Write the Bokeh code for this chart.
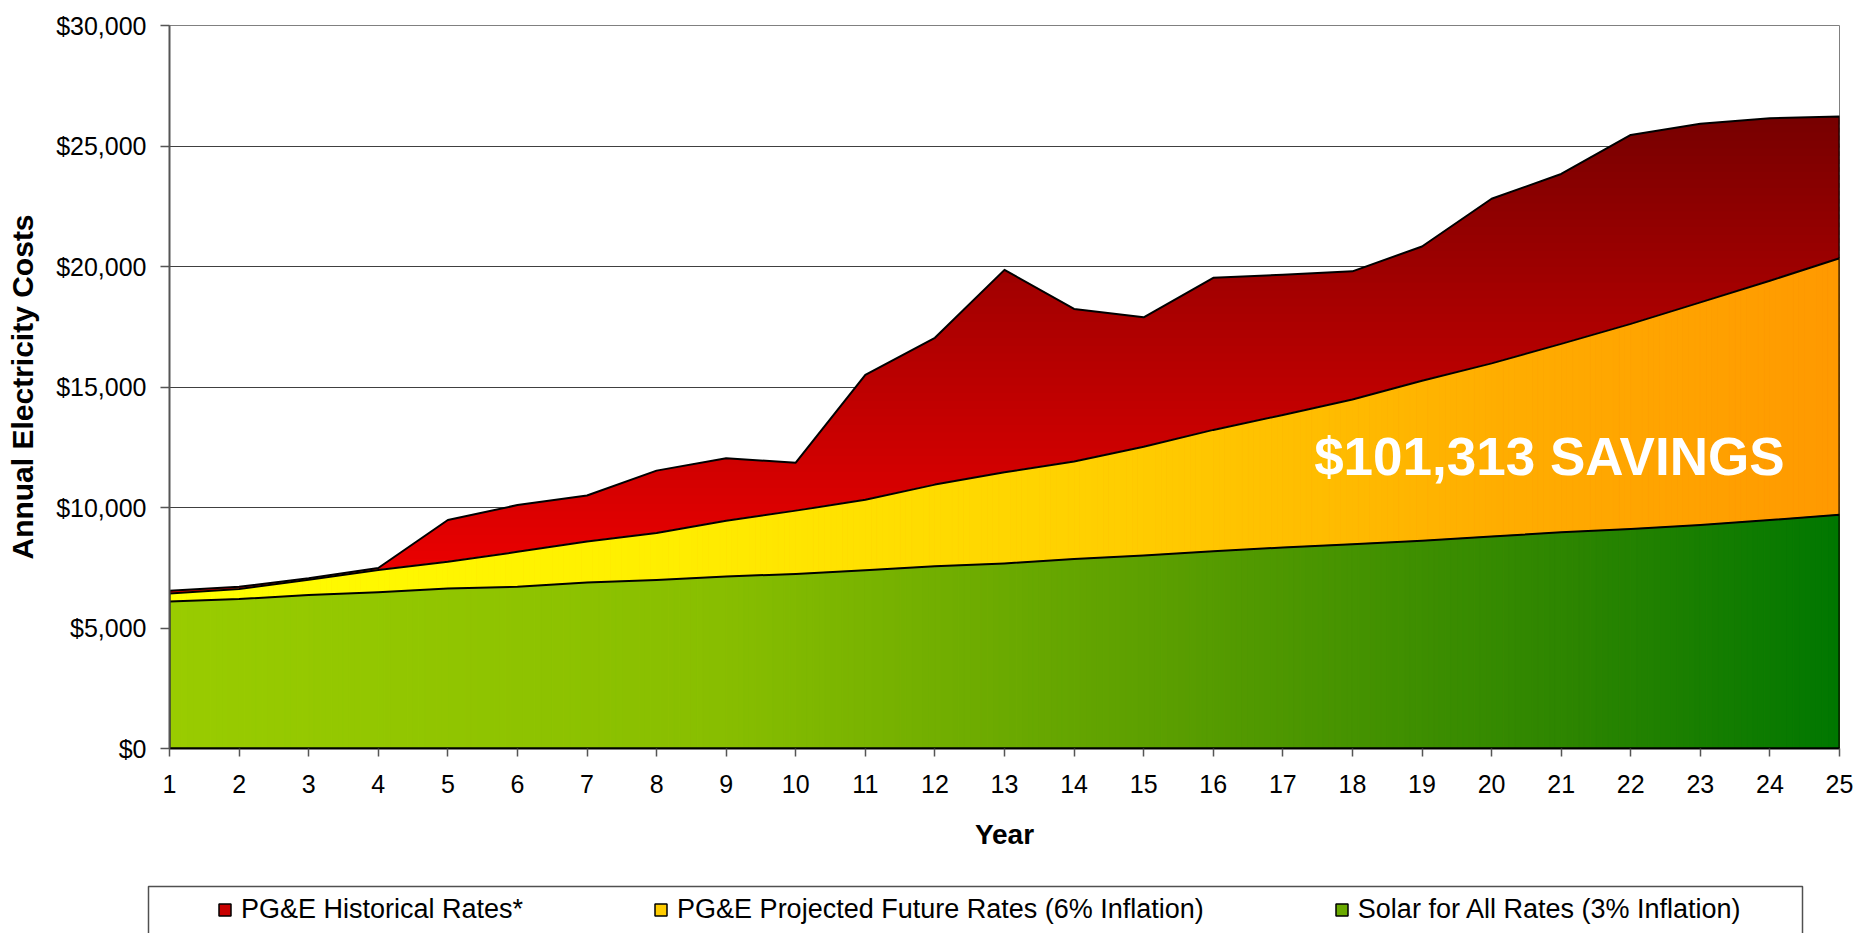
import numpy as np
from bokeh.plotting import figure
from bokeh.layouts import column, row
from bokeh.models import (ColumnDataSource, Legend, LegendItem, Label, BoxAnnotation,
                          NumeralTickFormatter, FixedTicker, Range1d)
from bokeh.embed import file_html
from bokeh.resources import INLINE

# ---------------- data ----------------
YEARS = list(range(1, 26))
HISTORICAL = [6550, 6710, 7060, 7490, 9480, 10100, 10500, 11530, 12040, 11860,
              15500, 17040, 19860, 18240, 17890, 19530, 19660, 19800, 20830, 22810,
              23840, 25460, 25920, 26150, 26220]
PROJECTED = [6430, 6620, 7000, 7410, 7750, 8160, 8590, 8940, 9450, 9870,
             10320, 10950, 11460, 11910, 12520, 13220, 13840, 14480, 15260, 15980,
             16790, 17620, 18510, 19410, 20340]
SOLAR = [6100, 6200, 6370, 6480, 6640, 6710, 6890, 6990, 7140, 7240,
         7400, 7560, 7680, 7860, 8010, 8180, 8340, 8480, 8620, 8800,
         8970, 9110, 9270, 9480, 9700]
Y_TICKS = [0, 5000, 10000, 15000, 20000, 25000, 30000]
LABELS = ["PG&E Historical Rates*",
          "PG&E Projected Future Rates (6% Inflation)",
          "Solar for All Rates (3% Inflation)"]
X_TITLE = "Year"
Y_TITLE = "Annual Electricity Costs"
SAVINGS_TEXT = "$101,313 SAVINGS"
SAVINGS_X, SAVINGS_Y = 20.83, 12120

# ---------------- style ----------------
FONT = "Liberation Sans"
RED_STOPS = [(0.0, "#FF0000"), (0.16, "#FF0000"), (1.0, "#770000")]
YELLOW_STOPS = [(0.0, "#FFFF00"), (0.3, "#FFEE00"), (0.55, "#FFD000"), (0.8, "#FFAD00"), (1.0, "#FF9900")]
GREEN_STOPS = [(0.0, "#99CC00"), (0.33, "#88BE00"), (0.6, "#5A9E00"), (0.85, "#2A8400"), (1.0, "#007700")]
SWATCH_COLORS = ["#C80000", "#FFCC00", "#6AAA00"]


def lerp_color(stops, t):
    t = min(max(t, 0.0), 1.0)
    for (t0, c0), (t1, c1) in zip(stops[:-1], stops[1:]):
        if t <= t1:
            f = 0.0 if t1 == t0 else (t - t0) / (t1 - t0)
            a = [int(c0[i:i + 2], 16) for i in (1, 3, 5)]
            b = [int(c1[i:i + 2], 16) for i in (1, 3, 5)]
            return "#%02x%02x%02x" % tuple(int(round(a[k] + (b[k] - a[k]) * f)) for k in range(3))
    return stops[-1][1]


xv = np.array(YEARS, dtype=float)


def vertical_strips(series, stops, sub=12):
    """Area from 0 to series, cut into vertical strips for a left-to-right gradient."""
    s = np.asarray(series, dtype=float)
    g = np.linspace(xv[0], xv[-1], (len(xv) - 1) * sub + 1)
    top = np.interp(g, xv, s)
    xs, ys, cols = [], [], []
    for j in range(len(g) - 1):
        xs.append([g[j], g[j + 1], g[j + 1], g[j]])
        ys.append([0.0, 0.0, top[j + 1], top[j]])
        t = ((g[j] + g[j + 1]) / 2 - xv[0]) / (xv[-1] - xv[0])
        cols.append(lerp_color(stops, t))
    return ColumnDataSource(dict(xs=xs, ys=ys, color=cols))


def horizontal_bands(series, stops, n=80):
    """Area from 0 to series, cut into horizontal bands for a bottom-to-top gradient."""
    s = np.asarray(series, dtype=float)
    vmax = s.max()
    edges = np.linspace(0, vmax, n + 1)
    step = edges[1] - edges[0]
    xs, ys, cols = [], [], []
    for a, b in zip(edges[:-1], edges[1:]):
        bb = min(b + 0.6 * step, vmax)
        pts = set(xv.tolist())
        for i in range(len(xv) - 1):
            y0, y1 = s[i], s[i + 1]
            for lv in (a, bb):
                if (y0 - lv) * (y1 - lv) < 0:
                    pts.add(xv[i] + (lv - y0) / (y1 - y0) * (xv[i + 1] - xv[i]))
        g = np.array(sorted(pts))
        up = np.clip(np.interp(g, xv, s), a, bb)
        xs.append(list(g) + list(g[::-1]))
        ys.append(list(up) + [a] * len(g))
        cols.append(lerp_color(stops, ((a + b) / 2) / vmax))
    return ColumnDataSource(dict(xs=xs, ys=ys, color=cols))


SERIES = [HISTORICAL, PROJECTED, SOLAR]
FILL_SOURCES = [horizontal_bands(HISTORICAL, RED_STOPS),
                vertical_strips(PROJECTED, YELLOW_STOPS),
                vertical_strips(SOLAR, GREEN_STOPS)]
FILL_LINES = [dict(line_color=None),
              dict(line_color="color", line_width=1),
              dict(line_color="color", line_width=1)]
OUTLINE_X = YEARS + [YEARS[-1], YEARS[0]]

p = figure(width=1857, height=880,
           x_range=Range1d(1, 25), y_range=Range1d(0, 30000),
           output_backend="svg", toolbar_location=None,
           min_border_left=169, min_border_right=18, min_border_top=25, min_border_bottom=132,
           background_fill_color="white", border_fill_color="white")

# overlapping areas (red, yellow, green): gradient fill + black border
for src, series, line_kw in zip(FILL_SOURCES, SERIES, FILL_LINES):
    p.patches("xs", "ys", source=src, fill_color="color", **line_kw)
    p.patch(OUTLINE_X, list(series) + [0, 0], fill_alpha=0,
            line_color="black", line_width=2, line_join="round")

# ---- axes ----
p.xaxis.ticker = FixedTicker(ticks=YEARS)
p.yaxis.ticker = FixedTicker(ticks=Y_TICKS)
p.yaxis.formatter = NumeralTickFormatter(format="$0,0")
p.xaxis.axis_label = X_TITLE
p.yaxis.axis_label = Y_TITLE
for ax in (p.xaxis, p.yaxis):
    ax.major_label_text_font = FONT
    ax.major_label_text_font_size = "25px"
    ax.major_label_text_color = "black"
    ax.axis_label_text_font = FONT
    ax.axis_label_text_font_style = "bold"
    ax.axis_label_text_color = "black"
    ax.major_tick_in = 0
    ax.minor_tick_line_color = None
    ax.major_tick_line_color = "#555555"
    ax.major_tick_line_width = 1.5
p.xaxis.axis_label_text_font_size = "28px"
p.yaxis.axis_label_text_font_size = "30px"
p.xaxis.major_tick_out = 8
p.yaxis.major_tick_out = 9
p.xaxis.major_label_standoff = 18
p.yaxis.major_label_standoff = 14
p.xaxis.axis_label_standoff = 23
p.yaxis.axis_label_standoff = 14
p.xaxis.axis_line_color = "black"
p.xaxis.axis_line_width = 2
p.yaxis.axis_line_color = "#555555"
p.yaxis.axis_line_width = 2

p.xgrid.visible = False
p.ygrid.grid_line_color = "#404040"
p.ygrid.grid_line_width = 1
p.outline_line_color = "#808080"
p.outline_line_width = 1

# ---- savings annotation ----
p.add_layout(Label(x=SAVINGS_X, y=SAVINGS_Y, text=SAVINGS_TEXT, text_align="center",
                   text_baseline="alphabetic", text_font=FONT, text_font_style="bold",
                   text_font_size="53px", text_color="white"))

# ---- legend strip (boxed, below the chart) ----
# its ranges keep the series shapes out of view; they only feed the legend swatches
p2 = figure(width=1857, height=53, x_range=Range1d(-2, -1), y_range=Range1d(-2, -1),
            output_backend="svg", toolbar_location=None,
            x_axis_location=None, y_axis_location=None,
            min_border_left=146, min_border_right=53, min_border_top=4, min_border_bottom=0,
            background_fill_color="white", border_fill_color="white")
p2.grid.visible = False
p2.outline_line_color = None

swatches = [p2.patch(OUTLINE_X, list(series) + [0, 0], fill_color=c,
                     line_color="black", line_width=1.5)
            for series, c in zip(SERIES, SWATCH_COLORS)]
legend = Legend(items=[LegendItem(label=lab, renderers=[r]) for lab, r in zip(LABELS, swatches)],
                orientation="horizontal", location=(71, 8),
                glyph_width=15, glyph_height=15, label_standoff=9, spacing=130,
                padding=0, margin=0,
                label_text_font=FONT, label_text_font_size="27px", label_text_color="black",
                border_line_alpha=0, background_fill_alpha=0)
p2.add_layout(legend)
# legend frame: open at the bottom edge of the page, as in the original
p2.add_layout(BoxAnnotation(left=148, right=1802, top=6, bottom=90,
                            left_units="canvas", right_units="canvas",
                            top_units="canvas", bottom_units="canvas",
                            fill_color=None, line_color="#505050", line_alpha=1.0,
                            line_width=1.5))

open("out.html", "w").write(file_html(column(p, row(p2), spacing=0), INLINE))
